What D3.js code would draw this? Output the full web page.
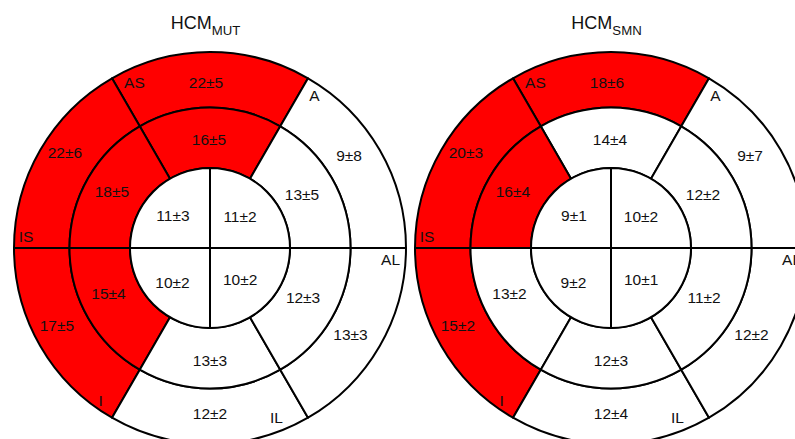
<!DOCTYPE html>
<html>
<head>
<meta charset="utf-8">
<script src="https://cdn.jsdelivr.net/npm/d3@7"></script>
<style>
  html, body { margin: 0; padding: 0; background: #fff; }
  svg { display: block; font-family: "Liberation Sans", Arial, sans-serif; }
</style>
</head>
<body>
<svg id="chart" width="795" height="439"></svg>
<script>
// Segmental wall thickness (mm, mean ± SD) in a 16-segment bullseye.
// Basal and mid rings run counter-clockwise from the top segment;
// the apical ring is split into quadrants starting top-left.
const groups = ["MUT", "SMN"];
const wallLabels = ["AS", "IS", "I", "IL", "AL", "A"];

const mutBasalMean = [22, 22, 17, 12, 13, 9];
const mutBasalSD   = [5, 6, 5, 2, 3, 8];
const mutMidMean   = [16, 18, 15, 13, 12, 13];
const mutMidSD     = [5, 5, 4, 3, 3, 5];
const mutApexMean  = [11, 10, 10, 11];
const mutApexSD    = [3, 2, 2, 2];

const smnBasalMean = [18, 20, 15, 12, 12, 9];
const smnBasalSD   = [6, 3, 2, 4, 2, 7];
const smnMidMean   = [14, 16, 13, 12, 11, 12];
const smnMidSD     = [4, 4, 2, 3, 2, 2];
const smnApexMean  = [9, 9, 10, 10];
const smnApexSD    = [1, 2, 1, 2];

// Segments at or above this thickness are highlighted.
const hypertrophyCutoff = 15;

const panels = [
  { group: groups[0], basal: [mutBasalMean, mutBasalSD], mid: [mutMidMean, mutMidSD], apex: [mutApexMean, mutApexSD] },
  { group: groups[1], basal: [smnBasalMean, smnBasalSD], mid: [smnMidMean, smnMidSD], apex: [smnApexMean, smnApexSD] }
];

// ---- layout ----
const centers = [[210, 248], [611, 248]];
const radius = d3.scaleOrdinal()
  .domain(["center", "apex", "mid", "basal"])
  .range([0, 80, 140.5, 196]);

// text placement inside each segment: [angle in degrees ccw from +x, distance from centre]
const basalTextPos = [[91.4, 165], [146.6, 173.8], [207, 171.8], [270, 166], [328.5, 164.8], [33.6, 167]];
const midTextPos   = [[90.5, 108.5], [150.3, 112.9], [204.4, 111.4], [270, 113], [332, 105.4], [30.2, 106.4]];
const apexTextPos  = [[139.1, 49], [223, 51.3], [313.2, 44], [46.4, 43.5]];
const wallTextPos  = [[114.6, 181.6], [176.4, 184.4], [234.3, 187.5], [291.4, 182.1], [356.4, 180.9], [55.6, 185]];

const fill = d3.scaleThreshold().domain([hypertrophyCutoff]).range(["#ffffff", "#ff0000"]);
const toRad = d3.scaleLinear().domain([0, 360]).range([0, 2 * Math.PI]);

const svg = d3.select("#chart");
svg.append("rect").attr("width", 795).attr("height", 439).attr("fill", "#fff");

const arc = d3.arc();

function polar(c, deg, r) {
  const a = toRad(deg);
  return [c[0] + r * Math.cos(a), c[1] - r * Math.sin(a)];
}

panels.forEach((p, k) => {
  const c = centers[k];
  const g = svg.append("g");

  // build segment list: math-angle spans (ccw degrees)
  const segs = [];
  const addRing = (ring, inner, outer, start, step, pos) => {
    const [means, sds] = ring;
    means.forEach((m, i) => {
      const a0 = start + step * i, a1 = a0 + step;
      segs.push({ mean: m, sd: sds[i], r0: radius(inner), r1: radius(outer), a0, a1, pos: pos[i] });
    });
  };
  addRing(p.basal, "mid", "basal", 60, 60, basalTextPos);
  addRing(p.mid, "apex", "mid", 60, 60, midTextPos);
  addRing(p.apex, "center", "apex", 90, 90, apexTextPos);

  g.selectAll("path.seg")
    .data(segs)
    .join("path")
    .attr("class", "seg")
    .attr("transform", `translate(${c[0]},${c[1]})`)
    .attr("d", d => arc({
      innerRadius: d.r0,
      outerRadius: d.r1,
      startAngle: toRad(90 - d.a1),
      endAngle: toRad(90 - d.a0)
    }))
    .attr("fill", d => fill(d.mean))
    .attr("stroke", "#000")
    .attr("stroke-width", 2)
    .attr("stroke-linejoin", "round");

  g.selectAll("text.val")
    .data(segs)
    .join("text")
    .attr("class", "val")
    .attr("x", d => polar(c, d.pos[0], d.pos[1])[0])
    .attr("y", d => polar(c, d.pos[0], d.pos[1])[1])
    .attr("dy", "0.35em")
    .attr("text-anchor", "middle")
    .attr("font-size", 15.5)
    .attr("fill", "#111")
    .text(d => `${d.mean}±${d.sd}`);

  g.selectAll("text.wall")
    .data(wallLabels)
    .join("text")
    .attr("class", "wall")
    .attr("x", (d, i) => polar(c, wallTextPos[i][0], wallTextPos[i][1])[0])
    .attr("y", (d, i) => polar(c, wallTextPos[i][0], wallTextPos[i][1])[1])
    .attr("dy", "0.35em")
    .attr("text-anchor", "middle")
    .attr("font-size", 15.5)
    .attr("fill", "#111")
    .text(d => d);

  const title = g.append("text")
    .attr("x", c[0] - 4.5)
    .attr("y", 28.5)
    .attr("text-anchor", "middle")
    .attr("fill", "#111");
  title.append("tspan").attr("font-size", 18).text("HCM");
  title.append("tspan").attr("font-size", 13.2).attr("dy", 6).text(p.group);
});
</script>
</body>
</html>
